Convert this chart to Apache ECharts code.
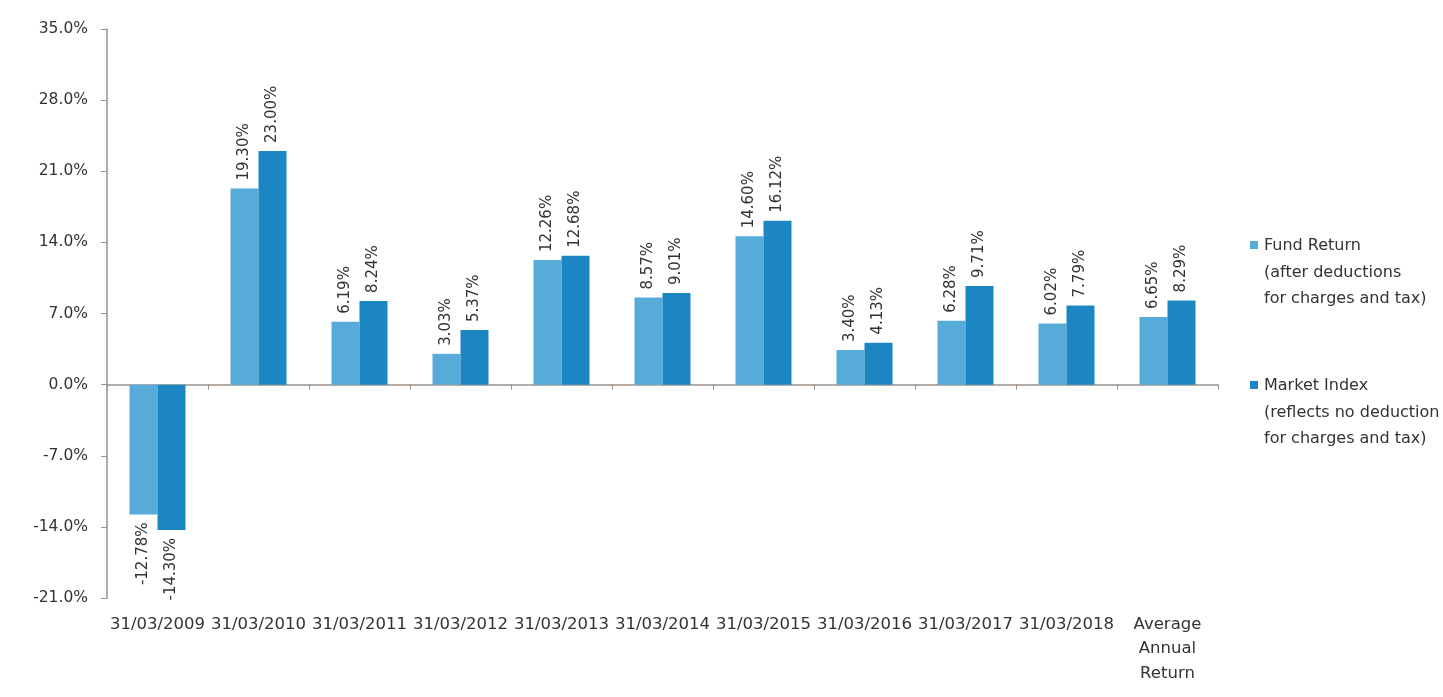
<!DOCTYPE html>
<html><head><meta charset="utf-8">
<script src="https://cdn.jsdelivr.net/npm/echarts@6/dist/echarts.min.js"></script>
<style>html,body{margin:0;padding:0;background:#fff}#c{width:1443px;height:697px}</style>
</head><body><div id="c"></div>
<script>
const categories = ['31/03/2009','31/03/2010','31/03/2011','31/03/2012','31/03/2013','31/03/2014','31/03/2015','31/03/2016','31/03/2017','31/03/2018','Average\nAnnual\nReturn'];
const fundReturn = [-12.78, 19.30, 6.19, 3.03, 12.26, 8.57, 14.60, 3.40, 6.28, 6.02, 6.65];
const marketIndex = [-14.30, 23.00, 8.24, 5.37, 12.68, 9.01, 16.12, 4.13, 9.71, 7.79, 8.29];
const legendFund = ['Fund Return', '(after deductions', 'for charges and tax)'];
const legendMarket = ['Market Index', '(reflects no deduction', 'for charges and tax)'];
const colorFund = '#56abd9';
const colorMarket = '#1c86c2';
const FONT = 'DejaVu Sans';
const axisColor = '#9a918a';

function labelled(vals){
  return vals.map(v => v < 0 ? {value: v, label: {position: 'bottom', align: 'right'}} : {value: v});
}
const labelCfg = {show: true, position: 'top', rotate: 90, align: 'left', verticalAlign: 'middle', distance: 8,
  fontFamily: FONT, fontSize: 15, color: '#333', formatter: p => p.value.toFixed(2) + '%'};

const chart = echarts.init(document.getElementById('c'));
chart.setOption({
  animation: false,
  grid: {left: 107, right: 225, top: 29, bottom: 99, containLabel: false},
  xAxis: [
    {type: 'category', data: categories, position: 'bottom',
     axisLine: {show: false, onZero: false}, axisTick: {show: false},
     axisLabel: {fontFamily: FONT, fontSize: 16.5, color: '#333', margin: 14, lineHeight: 24.5, interval: 0}},
    {type: 'category', data: categories, position: 'top',
     axisLine: {show: true, onZero: true, lineStyle: {color: axisColor, width: 1.5}},
     axisTick: {show: true, inside: true, length: 5, lineStyle: {color: axisColor}},
     axisLabel: {show: false}}
  ],
  yAxis: {type: 'value', min: -21, max: 35, interval: 7,
    axisLine: {show: true, lineStyle: {color: axisColor, width: 1.5}},
    axisTick: {show: true, length: 6, lineStyle: {color: axisColor}},
    splitLine: {show: false},
    axisLabel: {fontFamily: FONT, fontSize: 15.5, color: '#333', margin: 19, formatter: v => v.toFixed(1) + '%'}},
  series: [
    {name: 'Fund Return', type: 'bar', xAxisIndex: 0, data: labelled(fundReturn), barWidth: 28, barGap: '0%',
     itemStyle: {color: colorFund}, label: labelCfg},
    {name: 'Market Index', type: 'bar', xAxisIndex: 0, data: labelled(marketIndex), barWidth: 28, barGap: '0%',
     itemStyle: {color: colorMarket}, label: labelCfg}
  ],
  graphic: [
    {type: 'rect', left: 1250, top: 241, shape: {width: 8, height: 8}, style: {fill: colorFund}},
    {type: 'text', left: 1264, top: 233, style: {text: legendFund.join('\n'), font: '16px "DejaVu Sans"', fill: '#333', lineHeight: 26.5}},
    {type: 'rect', left: 1250, top: 381, shape: {width: 8, height: 8}, style: {fill: colorMarket}},
    {type: 'text', left: 1264, top: 373, style: {text: legendMarket.join('\n'), font: '16px "DejaVu Sans"', fill: '#333', lineHeight: 26.5}}
  ]
});
</script></body></html>
